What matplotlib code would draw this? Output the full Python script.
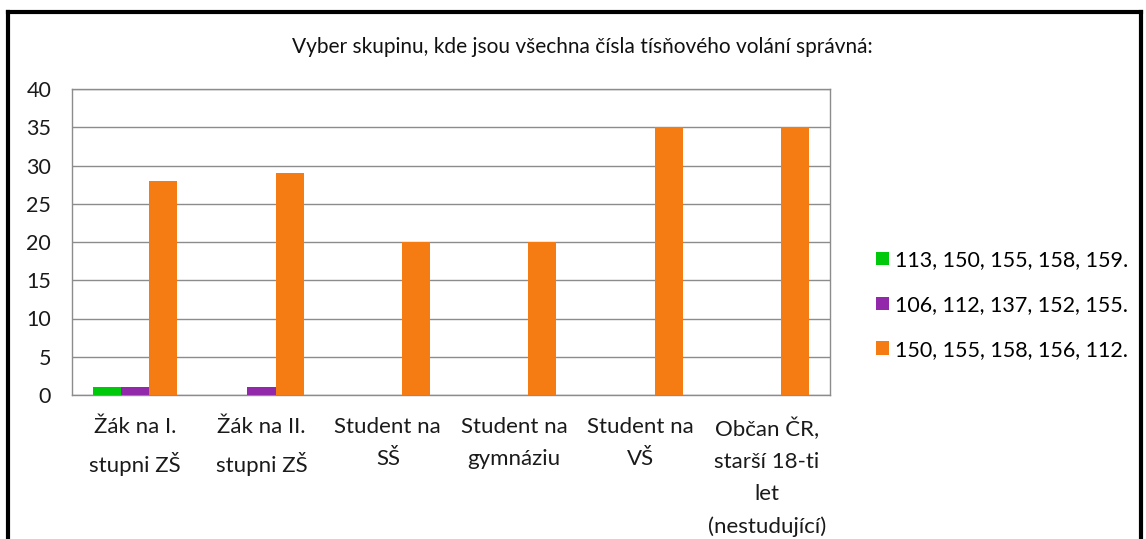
import matplotlib.pyplot as plt
from matplotlib.lines import Line2D
import numpy as np

categories = ["Žák na I.\nstupni ZŠ", "Žák na II.\nstupni ZŠ", "Student na\nSŠ",
              "Student na\ngymnáziu", "Student na\nVŠ", "Občan ČR,\nstarší 18-ti\nlet\n(nestudující)"]
series_names = ["113, 150, 155, 158, 159.", "106, 112, 137, 152, 155.", "150, 155, 158, 156, 112."]
green_vals = [1, 0, 0, 0, 0, 0]
purple_vals = [1, 1, 0, 0, 0, 0]
orange_vals = [28, 29, 20, 20, 35, 35]
colors = ["#00c80a", "#9228aa", "#f57b13"]

plt.rcParams["font.family"] = ["Lato", "DejaVu Sans"]

fig = plt.figure(figsize=(11.46, 5.39), dpi=100)
ax = fig.add_axes([72 / 1146, 1 - 395 / 539, (830 - 72) / 1146, (395 - 89) / 539])

x = np.arange(len(categories))
w = 0.222
for i, (vals, name) in enumerate(zip([green_vals, purple_vals, orange_vals], series_names)):
    ax.bar(x + (i - 1) * w, vals, w, color=colors[i], label=name, zorder=3)

ax.set_xlim(-0.5, len(categories) - 0.5)
ax.set_ylim(0, 40)
ax.set_yticks(range(0, 41, 5))
ax.yaxis.grid(True, color="#8c8c8c", linewidth=1.0, zorder=0)
for s in ax.spines.values():
    s.set_color("#8c8c8c")
    s.set_linewidth(1.0)
ax.tick_params(axis="y", length=0, labelsize=15.5, pad=15, colors="#1a1a1a")
ax.set_xticks(x)
ax.set_xticklabels(categories, fontsize=16, linespacing=1.75, color="#1a1a1a")
ax.tick_params(axis="x", length=0, pad=16)

fig.text(582 / 1146, 1 - 47 / 539, "Vyber skupinu, kde jsou všechna čísla tísňového volání správná:",
         ha="center", va="center", fontsize=15, color="#111111")

leg = fig.legend(loc="center left", bbox_to_anchor=(857 / 1146, 1 - 305 / 539), frameon=False,
                 fontsize=15.5, handlelength=0.6, handleheight=0.6, handletextpad=0.25,
                 labelspacing=1.15)

# black frame around the chart
fig.add_artist(Line2D([8 / 1146, 1141 / 1146], [1 - 12 / 539, 1 - 12 / 539], color="black", lw=3))
fig.add_artist(Line2D([8 / 1146, 8 / 1146], [1 - 12 / 539, 0], color="black", lw=3))
fig.add_artist(Line2D([1141 / 1146, 1141 / 1146], [1 - 12 / 539, 0], color="black", lw=3))

fig.savefig("out.png", dpi=100)
